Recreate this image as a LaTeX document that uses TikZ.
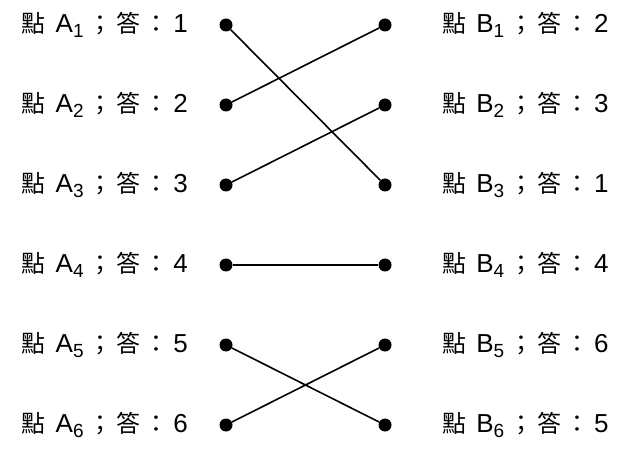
\documentclass[tikz,border=0pt]{standalone}
\usepackage{fontspec}
\setmainfont{Liberation Sans}
\newfontfamily\cjk{Noto Sans CJK TC}[Scale=0.92]
\usetikzlibrary{positioning}
\newcommand{\sub}[1]{\raisebox{-5pt}{\fontsize{19}{20}\selectfont #1}\hspace{5pt}}
\newcommand{\ans}{{\cjk ；}\hspace{4pt}{\cjk 答}\hspace{4pt}{\cjk ：}\hspace{5pt}}

\begin{document}
\begin{tikzpicture}[x=1pt,y=-1pt,
  dot/.style={circle, fill, inner sep=0pt, minimum size=13pt},
  lbl/.style={font=\fontsize{26}{28}\selectfont, inner sep=0pt},
  link/.style={line width=1.6pt}]
\useasboundingbox (0,0) rectangle (634,454);
\foreach \i/\a/\b [evaluate=\i as \y using 25+80*(\i-1)] in {1/1/2,2/2/3,3/3/1,4/4/4,5/5/6,6/6/5} {
  \node (a\i) [dot] at (226,\y) {};
  \node (b\i) [dot] at (385,\y) {};
  \node (la\i) [lbl, anchor=east] at (188,\y) {{\cjk 點}\hspace{3pt} A\sub{\i}\ans\a};
  \node (lb\i) [lbl, anchor=west] at (442,\y) {{\cjk 點}\hspace{3pt} B\sub{\i}\ans\b};
}
\draw[link] (a1) -- (b3);
\draw[link] (a2) -- (b1);
\draw[link] (a3) -- (b2);
\draw[link] (a4) -- (b4);
\draw[link] (a5) -- (b6);
\draw[link] (a6) -- (b5);
\end{tikzpicture}
\end{document}
